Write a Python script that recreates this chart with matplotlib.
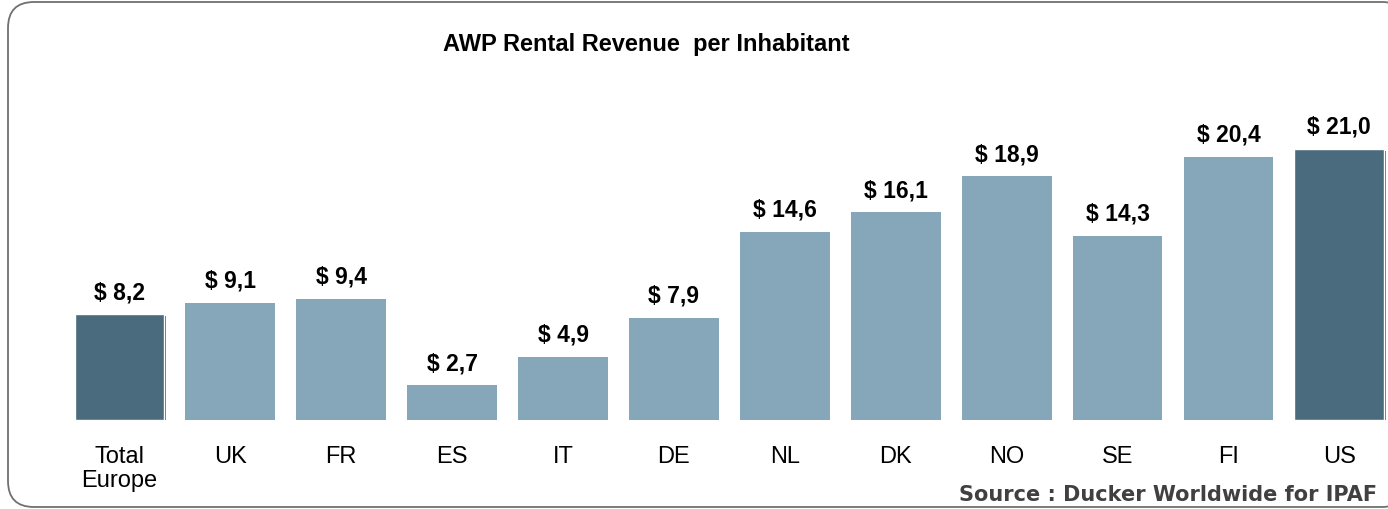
import matplotlib.pyplot as plt
import matplotlib.patheffects as pe
from matplotlib.patches import FancyBboxPatch

# data
categories = ['Total\nEurope', 'UK', 'FR', 'ES', 'IT', 'DE', 'NL', 'DK', 'NO', 'SE', 'FI', 'US']
revenue = [8.2, 9.1, 9.4, 2.7, 4.9, 7.9, 14.6, 16.1, 18.9, 14.3, 20.4, 21.0]
highlight = ['Total\nEurope', 'US']

light = '#86A6BA'
dark = '#4A6A7E'

plt.rcParams['font.family'] = ['Liberation Sans', 'DejaVu Sans']

W, H = 1388, 510
fig = plt.figure(figsize=(W / 100, H / 100), dpi=100)

# rounded frame around the whole slide
bg = fig.add_axes([0, 0, 1, 1])
bg.set_xlim(0, W)
bg.set_ylim(H, 0)
bg.axis('off')
frame = FancyBboxPatch((8, 3), 1400, 505, boxstyle='round,pad=0,rounding_size=26',
                       facecolor='white', edgecolor='#707070', linewidth=1.3)
bg.add_patch(frame)

# bar area
x0 = 64
ax = fig.add_axes([x0 / W, (H - 421) / H, (W - x0) / W, 322.5 / H])
ax.patch.set_alpha(0)
x = list(range(len(categories)))
colors = [dark if c in highlight else light for c in categories]
bars = ax.bar(x, revenue, width=0.81, color=colors)
for b, c in zip(bars, categories):
    if c in highlight:
        b.set_edgecolor('white')
        b.set_linewidth(1)
        b.set_path_effects([pe.SimplePatchShadow(offset=(1.4, -1.4), shadow_rgbFace=dark, alpha=1),
                            pe.Normal()])

labels = ['$ ' + f'{v:.1f}'.replace('.', ',') for v in revenue]
ax.bar_label(bars, labels=labels, padding=8, fontsize=16.5, fontweight='bold')

ax.set_xlim(-0.5, -0.5 + (W - x0) / 110.9)
ax.set_ylim(0, 25)
ax.set_xticks(x)
ax.set_xticklabels(categories, fontsize=17)
for lbl in ax.get_xticklabels():
    lbl.set_linespacing(1.12)
ax.tick_params(axis='x', length=0, pad=18)
ax.set_yticks([])
for s in ax.spines.values():
    s.set_visible(False)

fig.text(0.466, 1 - 45 / H, 'AWP Rental Revenue  per Inhabitant', ha='center', va='center',
         fontsize=17, fontweight='bold')
fig.text(1377 / W, 1 - 495 / H, 'Source : Ducker Worldwide for IPAF', ha='right', va='center',
         fontsize=15, fontweight='bold', color='#404040', family='DejaVu Sans')

fig.savefig('out.png', dpi=100)
